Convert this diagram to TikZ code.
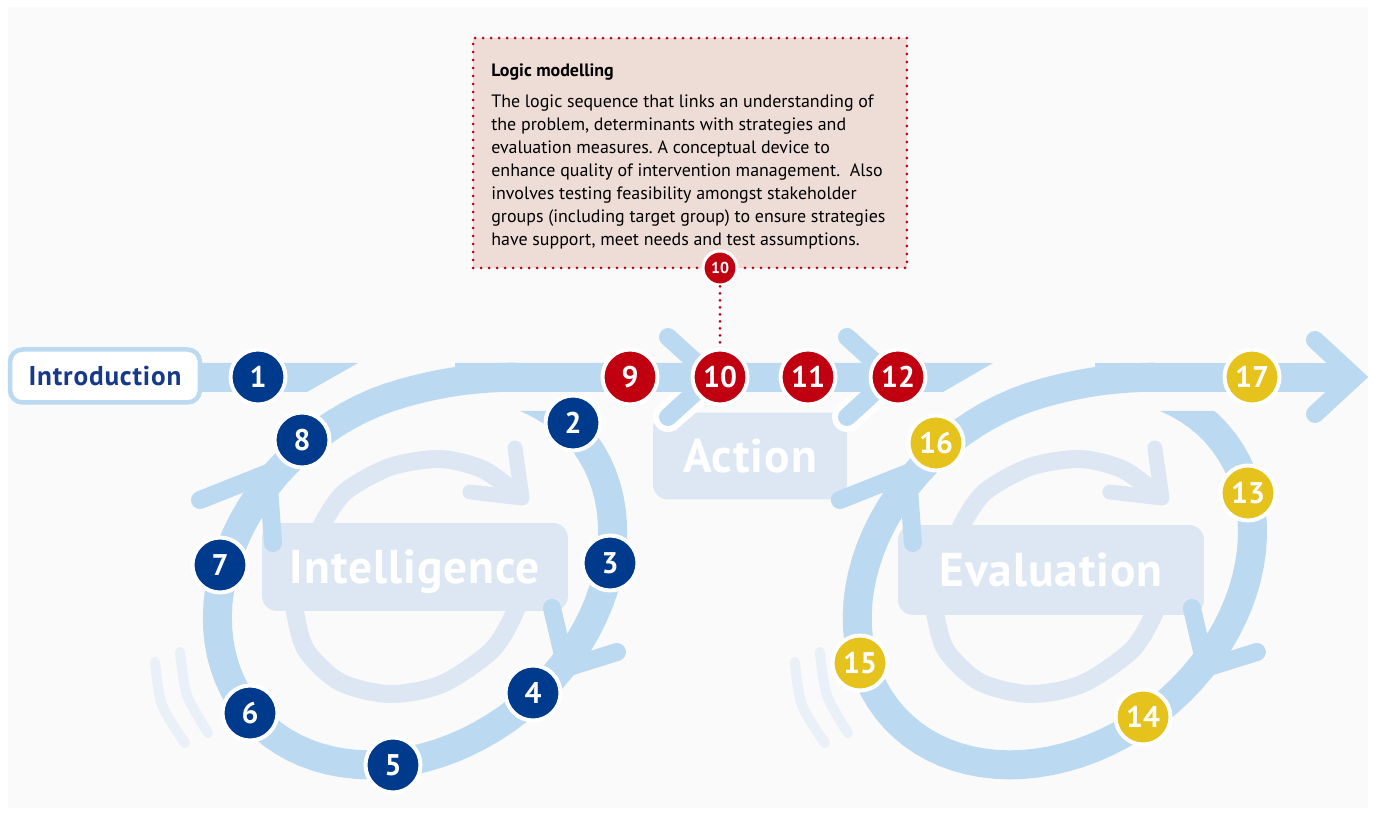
\documentclass[tikz,border=0pt]{standalone}
\usepackage{fontspec}
\setmainfont{PT Sans}
\newfontfamily\stagefont[LetterSpace=2.0]{PT Sans}
\newfontfamily\introfont[LetterSpace=3.0]{PT Sans}
\definecolor{ringc}{HTML}{BBD9F0}
\definecolor{pale}{HTML}{DCE7F3}
\definecolor{faint}{HTML}{EAF0F7}
\definecolor{navy}{HTML}{003A8C}
\definecolor{redb}{HTML}{C00010}
\definecolor{yel}{HTML}{E5C21C}
\definecolor{bgc}{HTML}{FAFAFA}
\definecolor{notec}{HTML}{EEDCD6}
\definecolor{introc}{HTML}{17398A}
\newcommand\mycycleback{%
  \draw[motion] plot[smooth] coordinates {(155,662) (162,705) (185,743)};
  \draw[motion] plot[smooth] coordinates {(180,652) (187,695) (208,733)};
  \draw[loopline] plot[smooth] coordinates {(318,545) (322,525) (345,492) (390,467) (440,459) (482,469) (512,490)};
  \draw[looparm] (515,448) -- (522,498) -- (470,492);
  \draw[loopline] plot[smooth] coordinates {(516,598) (515,612) (492,650) (442,684) (390,694) (340,682) (306,650) (295,612) (295,598)};
}
\newcommand\mycyclering{%
  \begin{scope}
    \clip (0,0) -- (515,0) -- (515,411) -- (800,411) -- (800,813) -- (0,813) -- cycle;
    \draw[ringline] plot[domain=-22:300,samples=80,variable=\t]
      ({415+164.7*cos(\t)+109.3*sin(\t)},{575-138.2*cos(\t)+130.2*sin(\t)})
      .. controls (447.7,380.7) and (480,377) .. (530,377);
  \end{scope}
  \draw[ringarm] (552,608) -- (566,668) -- (617,652);
  \draw[ringarm] (200,500) -- (268,473) -- (273,543);
}
\begin{document}
\begin{tikzpicture}[x=0.02cm,y=-0.02cm,
  badge/.style={circle,draw=white,line width=0.08cm,minimum size=1.1cm,inner sep=0pt,text=white,font=\fontsize{17}{17}\selectfont\bfseries},
  nb/.style={badge,fill=navy},
  rb/.style={badge,fill=redb},
  yb/.style={badge,fill=yel},
  ringline/.style={draw=ringc,line width=0.58cm},
  ringarm/.style={draw=ringc,line width=0.36cm,line cap=round,line join=round},
  bandarm/.style={draw=ringc,line width=0.36cm,line cap=round,line join=miter},
  loopline/.style={draw=pale,line width=0.36cm},
  looparm/.style={draw=pale,line width=0.3cm,line cap=round,line join=round},
  motion/.style={draw=faint,line width=0.2cm,line cap=round},
  stage/.style={fill=pale,rounded corners=0.3cm,text=white,text depth=0pt,font=\stagefont\fontsize{27}{27}\selectfont\bfseries}]
\useasboundingbox (0,0) rectangle (1374,813);
\fill[white] (0,0) rectangle (1374,813);
\fill[bgc] (8,7) rectangle (1368,808);

% cycles background parts
\mycycleback
\begin{scope}[xshift=12.8cm]\mycycleback\end{scope}

% stage boxes
\node[stage,minimum width=6.12cm,minimum height=1.76cm] (intel) at (415,567) {Intelligence};
\node[stage,minimum width=6.12cm,minimum height=1.8cm] (evalbox) at (1051,570) {Evaluation};
\node[stage,minimum width=3.88cm,minimum height=1.74cm] (action) at (750,456) {Action};

% white gaps around lower chevron arms
\draw[white,line width=0.6cm,line cap=round] (668,417) -- (700,389);
\draw[white,line width=0.6cm,line cap=round] (847,417) -- (879,389);

% main band
\fill[ringc] (195,363) -- (358,363) -- (307,392) -- (195,392) -- cycle;
\fill[ringc] (455,363) -- (993,363) -- (943,392) -- (455,392) -- cycle;
\fill[ringc] (1095,363) -- (1350,363) -- (1350,392) -- (1095,392) -- cycle;

% rings
\mycyclering
\begin{scope}[xshift=12.8cm]\mycyclering\end{scope}

% band chevrons
\draw[bandarm] (668,337) -- (712,377) -- (668,417);
\draw[bandarm] (847,337) -- (891,377) -- (847,417);
\draw[bandarm] (1315,340) -- (1355,377) -- (1315,414);

% introduction box
\node[draw=ringc,line width=0.09cm,fill=white,rounded corners=0.25cm,minimum width=3.8cm,minimum height=1.06cm,text=introc,text depth=0pt,font=\introfont\fontsize{15.5}{15.5}\selectfont\bfseries] (intro) at (105,376) {Introduction};

% note box
\node[draw=redb,fill=notec,dash pattern=on 0pt off 0.16cm,line cap=round,line width=0.06cm,minimum width=8.68cm,minimum height=4.6cm,inner sep=0pt] (note) at (690,153) {};
\node[anchor=base west,inner sep=0pt,font=\fontsize{10.2}{13.1}\selectfont\bfseries] (title) at (491,77) {Logic modelling};
\node[anchor=north west,inner sep=0pt,align=left,font=\fontsize{10.2}{13.1}\selectfont\frenchspacing] (body) at (491,92.9) {\rule{0pt}{8pt}The logic sequence that links an understanding of\\
the problem, determinants with strategies and\\
evaluation measures. A conceptual device to\\
enhance quality of intervention management.\ \ Also\\
involves testing feasibility amongst stakeholder\\
groups (including target group) to ensure strategies\\
have support, meet needs and test assumptions.};

% badges
\node[nb] (b1) at (258,377) {1};
\node[nb] (b2) at (573,423) {2};
\node[nb] (b3) at (610,563) {3};
\node[nb] (b4) at (533,693) {4};
\node[nb] (b5) at (393,765) {5};
\node[nb] (b6) at (250,713) {6};
\node[nb] (b7) at (220,565) {7};
\node[nb] (b8) at (302,440) {8};
\node[rb] (b9) at (630,377) {9};
\node[rb] (b10) at (720,377) {10};
\node[rb] (b11) at (808,377) {11};
\node[rb] (b12) at (898,377) {12};
\node[yb] (b13) at (1248,493) {13};
\node[yb] (b14) at (1143,717) {14};
\node[yb] (b15) at (860,663) {15};
\node[yb] (b16) at (936,443) {16};
\node[yb] (b17) at (1252,377) {17};

% small badge and dotted connector
\node[circle,fill=redb,draw=white,line width=0.06cm,minimum size=0.68cm,inner sep=0pt,text=white,font=\fontsize{9}{9}\selectfont\bfseries] (s10) at (720,268) {10};
\draw[redb,dash pattern=on 0pt off 0.14cm,line cap=round,line width=0.06cm] (s10) -- (b10);
\end{tikzpicture}
\end{document}
